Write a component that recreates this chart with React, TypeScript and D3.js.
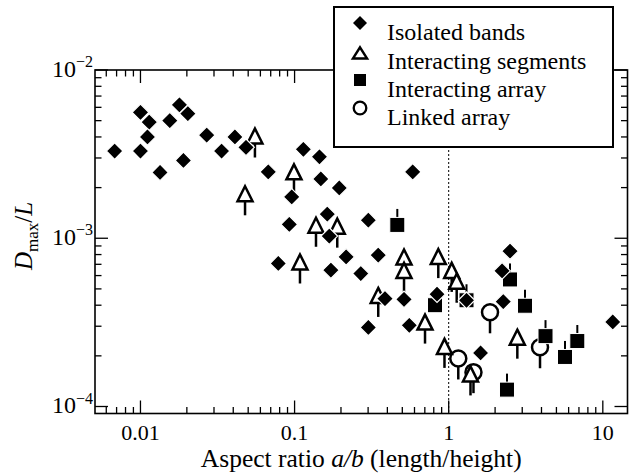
import React from 'react';
import * as d3 from 'd3';

// Isolated bands (filled diamonds)
const isolatedX = [0.0068, 0.0100, 0.0114, 0.0111, 0.0100, 0.0134, 0.0155, 0.0179, 0.0203, 0.0190, 0.0269, 0.0336, 0.0410, 0.0484, 0.114, 0.145, 0.0675, 0.148, 0.195, 0.584, 0.0958, 0.0924, 0.163, 0.168, 0.301, 0.0784, 0.216, 0.172, 0.269, 0.349, 0.386, 0.513, 0.840, 1.305, 0.301, 0.555, 1.61, 2.50, 2.22, 2.26, 11.6];
const isolatedY = [0.0033, 0.0056, 0.0049, 0.0040, 0.0033, 0.00246, 0.0050, 0.0062, 0.0055, 0.0029, 0.0041, 0.0033, 0.0040, 0.00347, 0.00338, 0.00305, 0.00248, 0.00225, 0.00199, 0.00248, 0.00176, 0.00121, 0.00139, 0.00103, 0.00128, 0.000708, 0.000775, 0.000646, 0.000617, 0.000793, 0.000438, 0.000433, 0.000465, 0.000428, 0.000295, 0.000304, 0.000208, 0.000838, 0.00064, 0.00042, 0.000318];

// Interacting segments (open triangles)
const segmentsX = [0.0553, 0.0477, 0.0991, 0.1377, 0.1892, 0.1084, 0.513, 0.513, 0.856, 1.046, 1.127, 0.349, 0.702, 0.939, 1.385, 2.788];
const segmentsY = [0.00397, 0.00180, 0.00243, 0.00117, 0.001156, 0.000708, 0.000758, 0.000631, 0.000762, 0.000631, 0.000544, 0.000448, 0.000311, 0.000223, 0.000153, 0.000253];

// Interacting array (filled squares)
const arrayX = [0.464, 0.815, 1.305, 2.499, 3.127, 2.389, 4.248, 5.684, 6.832];
const arrayY = [0.00120, 0.000400, 0.000428, 0.000569, 0.000397, 0.000126, 0.000262, 0.000197, 0.000245];

// Linked array (open circles)
const linkedX = [1.854, 1.154, 1.448, 3.913];
const linkedY = [0.000363, 0.000193, 0.000160, 0.000225];

const xMajorTicks = [0.01, 0.1, 1, 10];
const xTickLabels = ['0.01', '0.1', '1', '10'];
const yMajorTicks = [1e-4, 1e-3, 1e-2];
const yTickExponents = ['−4', '−3', '−2'];

const legendLabels = ['Isolated bands', 'Interacting segments', 'Interacting array', 'Linked array'];

const W = 629, H = 475;
const PL = 95, PR = 627.5, PT = 70, PB = 413.5;
const FONT = '"Liberation Serif", "Times New Roman", Times, serif';

const diamondPath = (r: number) => `M0,${-r}L${r},0L0,${r}L${-r},0Z`;
const trianglePath = (w: number, h: number) => `M0,${-h * 0.6}L${w / 2},${h * 0.4}L${-w / 2},${h * 0.4}Z`;

export default function App() {
  const x = d3.scaleLog().domain([0.00507, 14.46]).range([PL, PR]);
  const y = d3.scaleLog().domain([Math.pow(10, -4.0416), 0.01]).range([PB, PT]);

  const [x0, x1] = x.domain();
  const xTicks: { v: number; major: boolean }[] = [];
  for (let e = -3; e <= 1; e++) {
    for (let m = 1; m <= 9; m++) {
      const v = m * Math.pow(10, e);
      if (v >= x0 && v <= x1) xTicks.push({ v, major: m === 1 });
    }
  }
  const [y0, y1] = y.domain();
  const yTicks: { v: number; major: boolean }[] = [];
  for (let e = -5; e <= -2; e++) {
    for (let m = 1; m <= 9; m++) {
      const v = m * Math.pow(10, e);
      if (v >= y0 * 0.999 && v <= y1 * 1.001) yTicks.push({ v, major: m === 1 });
    }
  }

  const majLen = 13, minLen = 6.5;
  const tickStroke = 1.3;

  const legendX = 360;
  const legendRows = [23, 53, 80, 108];
  const legendBase = [39.5, 68.5, 96.5, 124.5];

  return (
    <svg width={W} height={H} style={{ position: 'absolute', left: 0, top: 0, background: '#fff' }} fontFamily={FONT}>
      <rect x={0} y={0} width={W} height={H} fill="#fff" />

      {/* dotted line at a/b = 1 */}
      <line x1={x(1)} x2={x(1)} y1={PT} y2={PB} stroke="#000" strokeWidth={1} strokeDasharray="2,2" />

      {/* ticks */}
      {xTicks.map((t, i) => (
        <g key={'xt' + i} stroke="#000" strokeWidth={tickStroke}>
          <line x1={x(t.v)} x2={x(t.v)} y1={PB} y2={PB - (t.major ? majLen : minLen)} />
          <line x1={x(t.v)} x2={x(t.v)} y1={PT} y2={PT + (t.major ? majLen : minLen)} />
        </g>
      ))}
      {yTicks.map((t, i) => (
        <g key={'yt' + i} stroke="#000" strokeWidth={tickStroke}>
          <line x1={PL} x2={PL + (t.major ? majLen : minLen)} y1={y(t.v)} y2={y(t.v)} />
          <line x1={PR} x2={PR - (t.major ? majLen : minLen)} y1={y(t.v)} y2={y(t.v)} />
        </g>
      ))}

      {/* frame */}
      <rect x={PL} y={PT} width={PR - PL} height={PB - PT} fill="none" stroke="#000" strokeWidth={1.6} />

      {/* linked array: circles with stem below */}
      {linkedX.map((v, i) => (
        <g key={'c' + i} transform={`translate(${x(v)},${y(linkedY[i])})`}>
          <line x1={0} x2={0} y1={0} y2={21} stroke="#000" strokeWidth={2.5} />
          <circle r={8} fill="#fff" stroke="#000" strokeWidth={2.5} />
        </g>
      ))}

      {/* interacting segments: triangles with stem below */}
      {segmentsX.map((v, i) => (
        <g key={'t' + i} transform={`translate(${x(v)},${y(segmentsY[i])})`}>
          <line x1={0} x2={0} y1={0} y2={20} stroke="#000" strokeWidth={2.5} />
          <path d={trianglePath(15, 15)} fill="#fff" stroke="#000" strokeWidth={2.5} strokeLinejoin="miter" />
        </g>
      ))}

      {/* interacting array: squares with stem above */}
      {arrayX.map((v, i) => (
        <g key={'s' + i} transform={`translate(${x(v)},${y(arrayY[i])})`}>
          <line x1={0} x2={0} y1={0} y2={-16} stroke="#000" strokeWidth={2} />
          <rect x={-7.5} y={-7.5} width={15} height={15} fill="#000" stroke="#fff" strokeWidth={1} />
        </g>
      ))}

      {/* isolated bands: diamonds */}
      {isolatedX.map((v, i) => (
        <path key={'d' + i} d={diamondPath(8.3)} transform={`translate(${x(v)},${y(isolatedY[i])})`} fill="#000" stroke="#fff" strokeWidth={1.2} />
      ))}

      {/* x tick labels */}
      {xMajorTicks.map((v, i) => (
        <text key={'xl' + i} x={x(v)} y={440} textAnchor="middle" fontSize={22} fill="#000">{xTickLabels[i]}</text>
      ))}
      {/* y tick labels */}
      {yMajorTicks.map((v, i) => (
        <text key={'yl' + i} x={93} y={y(v) + 6.5} textAnchor="end" fontSize={24} fill="#000">
          10<tspan fontSize={16} dy={-9.5}>{yTickExponents[i]}</tspan>
        </text>
      ))}

      {/* axis titles */}
      <text x={(PL + PR) / 2} y={466.5} textAnchor="middle" fontSize={25.5} fill="#000">
        Aspect ratio <tspan fontStyle="italic">a/b</tspan> (length/height)
      </text>
      <text transform={`translate(32,236) rotate(-90)`} textAnchor="middle" fontSize={25} fill="#000">
        <tspan fontStyle="italic">D</tspan>
        <tspan fontSize={17} dy={6}>max</tspan>
        <tspan dy={-6}>/</tspan>
        <tspan fontStyle="italic">L</tspan>
      </text>

      {/* legend */}
      <rect x={334} y={7} width={279} height={140} fill="#fff" stroke="#000" strokeWidth={2} />
      <path d={diamondPath(7)} transform={`translate(${legendX},${legendRows[0]})`} fill="#000" />
      <path d={trianglePath(14, 11)} transform={`translate(${legendX},${legendRows[1] + 1})`} fill="#fff" stroke="#000" strokeWidth={2.5} />
      <rect x={legendX - 6} y={legendRows[2] - 6} width={12} height={12} fill="#000" />
      <circle cx={legendX} cy={legendRows[3]} r={6.3} fill="#fff" stroke="#000" strokeWidth={2.3} />
      {legendLabels.map((s, i) => (
        <text key={'lg' + i} x={387} y={legendBase[i]} fontSize={24} fill="#000">{s}</text>
      ))}
    </svg>
  );
}
